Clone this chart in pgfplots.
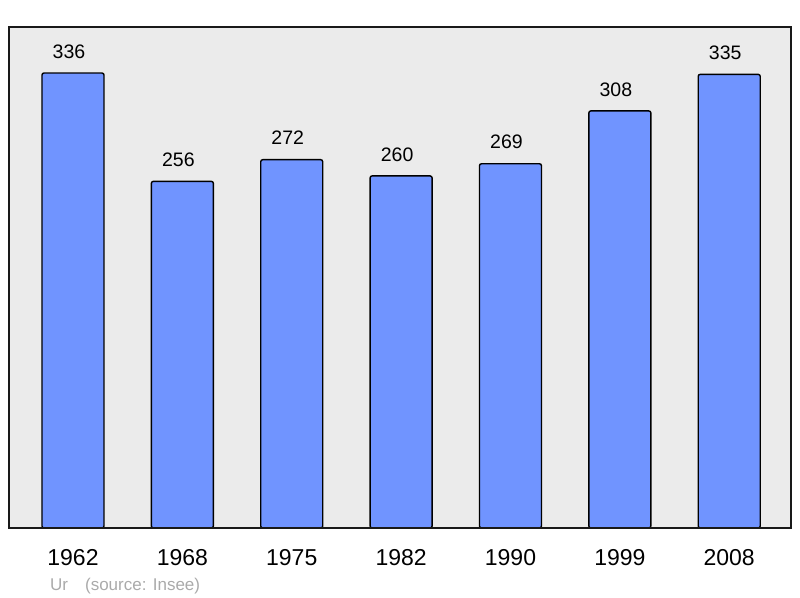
\documentclass[border=0pt]{standalone}
\usepackage{fontspec}
\setmainfont{Liberation Sans}
\usepackage{pgfplots}
\pgfplotsset{compat=1.18}
\definecolor{barfill}{HTML}{7094FF}
\definecolor{panel}{HTML}{EBEBEB}
\definecolor{note}{HTML}{AAAAAA}

\begin{document}
\begin{tikzpicture}
\useasboundingbox (0,0) rectangle (800bp,598bp);
\begin{axis}[
  at={(9bp,70bp)}, anchor=south west,
  scale only axis, width=782bp, height=501bp,
  xmin=-0.585, xmax=6.565, ymin=0, ymax=370,
  axis background/.style={fill=panel},
  axis line style={line width=2bp, draw=black!90},
  axis on top,
  ytick=\empty,
  xtick=data,
  xticklabels={1962,1968,1975,1982,1990,1999,2008},
  major tick length=0pt,
  xticklabel style={font=\fontsize{23bp}{26bp}\selectfont, anchor=base, yshift=-37bp},
  /pgf/number format/assume math mode=true,
  nodes near coords,
  nodes near coords style={font=\fontsize{19.5bp}{22bp}\selectfont, anchor=south,
    inner sep=0pt, yshift=14bp, xshift=-4bp, text=black},
  ybar, bar width=62bp,
]
\addplot[fill=barfill, draw=black, line width=1.4bp, rounded corners=2bp]
  coordinates {(0,336)(1,256)(2,272)(3,260)(4,269)(5,308)(6,335)};
\end{axis}
\node[anchor=base west, inner sep=0pt, text=note,
  font=\fontsize{17bp}{20bp}\selectfont] at (50bp,8bp) {Ur\hspace{17bp}(source: Insee)};
\end{tikzpicture}
\end{document}
